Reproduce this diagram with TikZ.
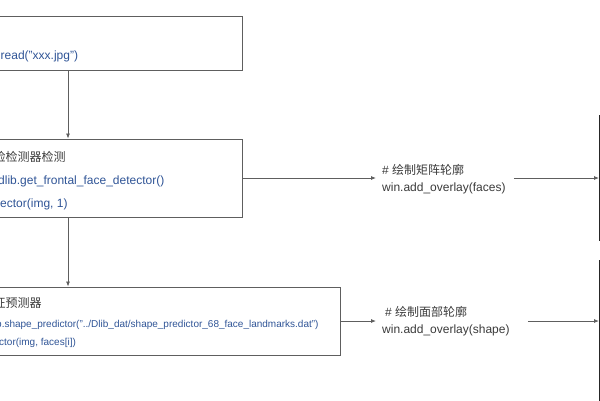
\documentclass[tikz,border=0pt]{standalone}
\usepackage{fontspec}
\setmainfont{Liberation Sans}
\newfontfamily\cjk{Noto Sans CJK SC}
\usetikzlibrary{arrows.meta}
\definecolor{codeblue}{HTML}{2F5496}
\definecolor{boxgray}{HTML}{5E5E5E}
\definecolor{txtgray}{HTML}{3A3A3A}

\def\big{\fontsize{12}{17}\selectfont}
\def\small{\fontsize{10}{12}\selectfont}

\tikzset{
  box/.style={draw=boxgray, line width=0.9pt, inner sep=0pt},
  winbox/.style={draw=black!85, line width=1pt, inner sep=0pt, anchor=north west},
  code/.style={anchor=base west, inner sep=0pt, text=codeblue, font=\big},
  codesm/.style={anchor=base west, inner sep=0pt, text=codeblue, font=\small},
  note/.style={anchor=base west, inner sep=0pt, text=txtgray, font=\big\cjk},
  ann/.style={align=left, text=txtgray, font=\big, inner xsep=6pt, anchor=west},
  arr/.style={draw=boxgray, line width=0.8pt, -{Latex[length=5pt,width=4pt]}},
}

\begin{document}
\begin{tikzpicture}[x=1pt, y=-1pt]
  \useasboundingbox (0,0) rectangle (600,400);
  \clip (0,0) rectangle (600,400);

  % boxes on the left, cut off by the frame
  \node[box, minimum width=262, minimum height=54] (load) at (111,43) {};
  \node[box, minimum width=262, minimum height=78] (detect) at (111,178) {};
  \node[box, minimum width=360, minimum height=68] (feat) at (160,321) {};
  % windows on the right
  \node[winbox, minimum width=100, minimum height=125] (win1) at (599,115) {};
  \node[winbox, minimum width=100, minimum height=160] (win2) at (599,260) {};

  % texts inside the boxes
  \node[code] (t1) at (0.5,59) {read("xxx.jpg")};
  \node[note] (t2a) at (-6.5,161) {脸检测器检测};
  \node[code] (t2b) at (-2,184) {dlib.get\_frontal\_face\_detector()};
  \node[code] (t2c) at (0,207) {ector(img, 1)};
  \node[note] (t3a) at (-6.5,307) {征预测器};
  \node[codesm] (t3b) at (-4,327) {b.shape\_predictor("../Dlib\_dat/shape\_predictor\_68\_face\_landmarks.dat")};
  \node[codesm] (t3c) at (-1,345) {ctor(img, faces[i])};

  % notes between the boxes
  \node[ann] (ann1) at (376,179) {\# {\cjk 绘制矩阵轮廓}\\win.add\_overlay(faces)};
  \node[ann] (ann2) at (376,321) {\hspace{3pt}\# {\cjk 绘制面部轮廓}\\win.add\_overlay(shape)};

  % connectors
  \coordinate (col) at (68,0);
  \draw[arr] (load.south -| col) -- (detect.north -| col);
  \draw[arr] (detect.south -| col) -- (feat.north -| col);
  \draw[arr] (detect.east) -- (detect.east -| ann1.west);
  \draw[arr] (feat.east) -- (feat.east -| ann2.west);
  \draw[arr, shorten <=2pt] (detect.east -| ann1.east) -- (detect.east -| win1.west);
  \draw[arr, shorten <=12pt] (ann2.east) -- (ann2.east -| win2.west);
\end{tikzpicture}
\end{document}
